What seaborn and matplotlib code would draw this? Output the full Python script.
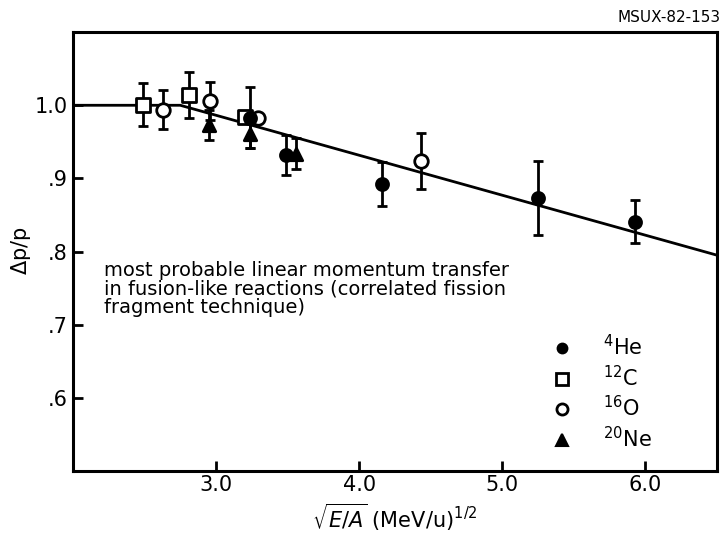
import numpy as np
import pandas as pd
import seaborn as sns
import matplotlib
matplotlib.use("Agg")
import matplotlib.pyplot as plt
from matplotlib.lines import Line2D
from matplotlib.ticker import FixedLocator, FixedFormatter

# ---- data ----
he_x = [3.24, 3.49, 4.16, 5.25, 5.93]
he_y = [0.983, 0.932, 0.892, 0.873, 0.841]
he_err = [0.042, 0.027, 0.030, 0.051, 0.030]

c_x = [2.49, 2.81, 3.20]
c_y = [1.001, 1.014, 0.984]
c_err = [0.030, 0.032, 0.0]

o_x = [2.63, 2.96, 3.29, 4.43]
o_y = [0.994, 1.006, 0.982, 0.924]
o_err = [0.027, 0.026, 0.0, 0.038]

ne_x = [2.95, 3.24, 3.56]
ne_y = [0.973, 0.961, 0.934]
ne_err = [0.020, 0.020, 0.021]

fit_x = [2.0, 2.75, 6.5]
fit_y = [1.0, 1.0, 0.795]

x_ticks = [3.0, 4.0, 5.0, 6.0]
x_ticklabels = ["3.0", "4.0", "5.0", "6.0"]
y_ticks = [0.6, 0.7, 0.8, 0.9, 1.0]
y_ticklabels = [".6", ".7", ".8", ".9", "1.0"]

labels = ["$^{4}$He", "$^{12}$C", "$^{16}$O", "$^{20}$Ne"]

# ---- build table ----
frames = []
for name, xs, ys, es in [("4He", he_x, he_y, he_err), ("12C", c_x, c_y, c_err),
                         ("16O", o_x, o_y, o_err), ("20Ne", ne_x, ne_y, ne_err)]:
    frames.append(pd.DataFrame({"x": xs, "y": ys, "err": es, "ion": name}))
df = pd.concat(frames, ignore_index=True)
fit = pd.DataFrame({"x": fit_x, "y": fit_y})

sns.set_theme(style="white")
plt.rcParams["font.family"] = ["DejaVu Sans"]
plt.rcParams["mathtext.fontset"] = "dejavusans"
plt.rcParams["text.color"] = "black"
plt.rcParams["axes.labelcolor"] = "black"

fig = plt.figure(figsize=(7.22, 5.45), dpi=100)
ax = fig.add_axes([0.101, 0.136, 0.892, 0.805])

# fit line
sns.lineplot(data=fit, x="x", y="y", ax=ax, color="black", linewidth=2.0,
             zorder=2, legend=False)

# error bars
for _, r in df.iterrows():
    if r["err"] > 0:
        ax.errorbar(r["x"], r["y"], yerr=r["err"], fmt="none", ecolor="black",
                    elinewidth=2.0, capsize=3.5, capthick=2.0, zorder=3)

styles = {
    "4He": dict(marker="o", facecolor="black", s=75),
    "12C": dict(marker="s", facecolor="white", s=95),
    "16O": dict(marker="o", facecolor="white", s=95),
    "20Ne": dict(marker="^", facecolor="black", s=80),
}
order = ["12C", "16O", "4He", "20Ne"]
for ion in order:
    sub = df[df["ion"] == ion]
    st = styles[ion]
    sns.scatterplot(data=sub, x="x", y="y", ax=ax, marker=st["marker"],
                    s=st["s"], color=st["facecolor"], edgecolor="black",
                    linewidth=2.0, zorder=4, legend=False)

ax.set_xlim(2.0, 6.5)
ax.set_ylim(0.5, 1.1)
ax.xaxis.set_major_locator(FixedLocator(x_ticks))
ax.xaxis.set_major_formatter(FixedFormatter(x_ticklabels))
ax.yaxis.set_major_locator(FixedLocator(y_ticks))
ax.yaxis.set_major_formatter(FixedFormatter(y_ticklabels))
ax.tick_params(direction="in", length=7, width=2, labelsize=15, colors="black",
               bottom=True, left=True, pad=4)
ax.tick_params(axis="x", pad=3)
for sp in ax.spines.values():
    sp.set_linewidth(2.2)
    sp.set_color("black")

ax.set_xlabel(r"$\sqrt{E/A}$ (MeV/u)$^{1/2}$", fontsize=15)
ax.set_ylabel(r"$\Delta$p/p", fontsize=15)
ax.xaxis.set_label_coords(0.5, -0.07)
ax.yaxis.set_label_coords(-0.062, 0.503)

ax.text(2.22, 0.787, "most probable linear momentum transfer\n"
        "in fusion-like reactions (correlated fission\n"
        "fragment technique)", fontsize=14, va="top", ha="left",
        linespacing=0.95, color="black")

# legend
handles = [
    Line2D([], [], ls="none", marker="o", mfc="black", mec="black", ms=7, mew=1.5),
    Line2D([], [], ls="none", marker="s", mfc="white", mec="black", ms=8, mew=2),
    Line2D([], [], ls="none", marker="o", mfc="white", mec="black", ms=8, mew=2),
    Line2D([], [], ls="none", marker="^", mfc="black", mec="black", ms=8, mew=1.5),
]
ax.legend(handles, labels, loc="upper left", bbox_to_anchor=(0.73, 0.33),
          frameon=False, fontsize=15, handletextpad=1.5, labelspacing=0.25,
          handlelength=1.0, borderaxespad=0, labelcolor="black")

fig.text(0.998, 0.967, "MSUX-82-153", ha="right", va="center", fontsize=11,
         color="black")

fig.savefig("out.png", dpi=100)
